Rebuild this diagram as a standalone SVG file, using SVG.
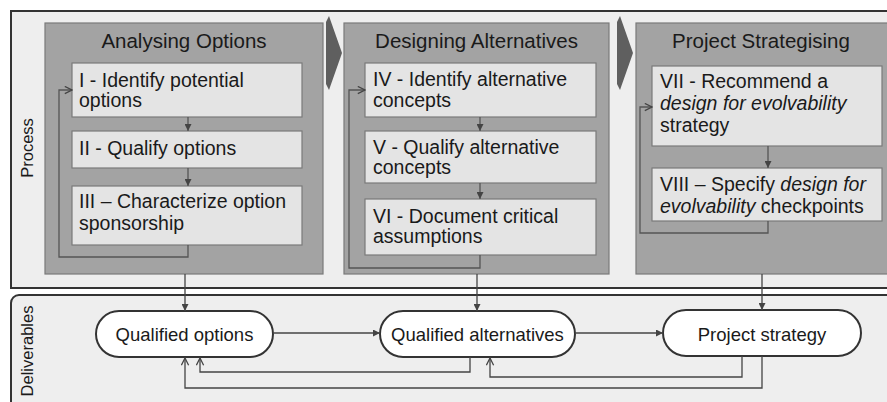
<svg xmlns="http://www.w3.org/2000/svg" width="887" height="402" viewBox="0 0 887 402">
<style>
.panel{fill:#eeeeee;stroke:#333333;stroke-width:2}
.stage{fill:#a3a3a3;stroke:#7a7a7a;stroke-width:1.2}
.box{fill:#e4e4e4;stroke:#7a7a7a;stroke-width:1.2}
.pill{fill:#ffffff;stroke:#333333;stroke-width:2}
.chev{fill:#5f5f5f}
text{font-family:"Liberation Sans",Arial,sans-serif;fill:#1a1a1a}
.title{font-size:20.5px;text-anchor:middle}
.bt{font-size:19.5px}
.pt{font-size:18.5px;text-anchor:middle}
.lane{font-size:16.5px;text-anchor:middle}
.c{fill:none;stroke:#555555;stroke-width:1.3}
.cd{fill:none;stroke:#444444;stroke-width:1.3}
</style>
<defs>
<marker id="fa" viewBox="0 0 10 10" refX="10" refY="5" markerWidth="7" markerHeight="7" markerUnits="userSpaceOnUse" orient="auto"><path d="M0,0 L10,5 L0,10 z" fill="#444444"/></marker>
<marker id="oa" viewBox="0 0 10 10" refX="9" refY="5" markerWidth="9" markerHeight="9" markerUnits="userSpaceOnUse" orient="auto"><path d="M1,1 L9,5 L1,9" fill="none" stroke="#444444" stroke-width="1.4"/></marker>
</defs>
<rect width="887" height="402" fill="#ffffff"/>
<g id="lane-process">
<rect class="panel" x="11" y="11" width="884" height="277"/>
<text class="lane" transform="translate(33,148) rotate(-90)">Process</text>
</g>
<g id="lane-deliverables">
<rect class="panel" x="11" y="295" width="884" height="120" rx="8"/>
<text class="lane" transform="translate(33,351) rotate(-90)">Deliverables</text>
</g>
<g id="stage-analysing">
<rect class="stage" x="45" y="23" width="278" height="251"/>
<text class="title" x="184" y="48">Analysing Options</text>
</g>
<g id="stage-designing">
<rect class="stage" x="344" y="23" width="265" height="251"/>
<text class="title" x="476.5" y="48">Designing Alternatives</text>
</g>
<g id="stage-strategising">
<rect class="stage" x="636" y="23" width="255" height="251"/>
<text class="title" x="761" y="48">Project Strategising</text>
</g>
<g id="chevrons">
<polygon class="chev" points="329,16 342,53 329,90 326,84 326,22"/>
<polygon class="chev" points="620,16 633,53 620,90 617,84 617,22"/>
</g>
<g id="n1"><rect class="box" x="72" y="63" width="230" height="54"/>
<text class="bt" x="79" y="87">I - Identify potential</text><text class="bt" x="79" y="107">options</text></g>
<g id="n2"><rect class="box" x="72" y="131" width="230" height="37"/>
<text class="bt" x="79" y="155">II - Qualify options</text></g>
<g id="n3"><rect class="box" x="72" y="186" width="230" height="59"/>
<text class="bt" x="79" y="208">III – Characterize option</text><text class="bt" x="79" y="230">sponsorship</text></g>
<g id="n4"><rect class="box" x="365" y="63" width="231" height="54"/>
<text class="bt" x="373" y="86">IV - Identify alternative</text><text class="bt" x="373" y="107">concepts</text></g>
<g id="n5"><rect class="box" x="365" y="131" width="231" height="52"/>
<text class="bt" x="373" y="154">V - Qualify alternative</text><text class="bt" x="373" y="174">concepts</text></g>
<g id="n6"><rect class="box" x="365" y="199" width="231" height="56"/>
<text class="bt" x="373" y="223">VI - Document critical</text><text class="bt" x="373" y="243">assumptions</text></g>
<g id="n7"><rect class="box" x="652" y="66" width="230" height="80"/>
<text class="bt" x="660" y="88">VII - Recommend a</text><text class="bt" x="660" y="110" font-style="italic">design for evolvability</text><text class="bt" x="660" y="132">strategy</text></g>
<g id="n8"><rect class="box" x="652" y="168" width="230" height="53"/>
<text class="bt" x="660" y="191">VIII – Specify <tspan font-style="italic">design for</tspan></text><text class="bt" x="660" y="213"><tspan font-style="italic">evolvability</tspan> checkpoints</text></g>
<g id="d1"><rect class="pill" x="96" y="311" width="177" height="46" rx="23"/>
<text class="pt" x="184.5" y="341">Qualified options</text></g>
<g id="d2"><rect class="pill" x="380" y="311" width="195" height="46" rx="23"/>
<text class="pt" x="477.5" y="341">Qualified alternatives</text></g>
<g id="d3"><rect class="pill" x="663" y="310" width="198" height="46" rx="23"/>
<text class="pt" x="762" y="341">Project strategy</text></g>
<g id="connectors">
<path class="c" d="M188,117 V131" marker-end="url(#fa)"/>
<path class="c" d="M188,168 V186" marker-end="url(#fa)"/>
<path class="c" d="M188,245 V257 H59 V90 H72" marker-end="url(#oa)"/>
<path class="c" d="M480,117 V131" marker-end="url(#fa)"/>
<path class="c" d="M480,183 V199" marker-end="url(#fa)"/>
<path class="c" d="M480,255 V268 H349 V90 H365" marker-end="url(#oa)"/>
<path class="c" d="M768,146 V168" marker-end="url(#fa)"/>
<path class="c" d="M768,221 V233 H640 V107 H652" marker-end="url(#oa)"/>
<path class="cd" d="M185,274 V311" marker-end="url(#fa)"/>
<path class="cd" d="M477,274 V311" marker-end="url(#fa)"/>
<path class="cd" d="M762,274 V310" marker-end="url(#fa)"/>
<path class="cd" d="M273,333 H380" marker-end="url(#fa)"/>
<path class="cd" d="M575,333 H663" marker-end="url(#fa)"/>
<path class="cd" d="M470,357 V372 H200 V358" marker-end="url(#oa)"/>
<path class="cd" d="M742,356 V377 H490 V358" marker-end="url(#oa)"/>
<path class="cd" d="M762,356 V388 H185 V358" marker-end="url(#oa)"/>
</g>
</svg>
